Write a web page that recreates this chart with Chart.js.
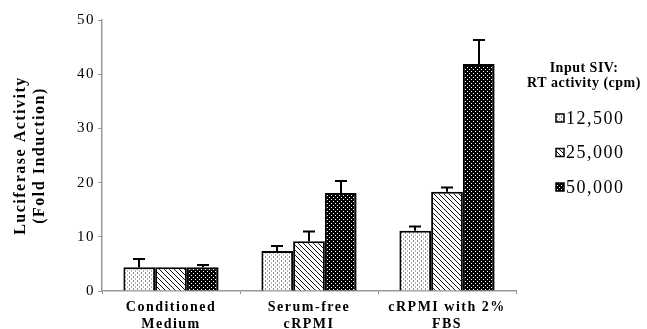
<!DOCTYPE html>
<html>
<head>
<meta charset="utf-8">
<script src="https://cdn.jsdelivr.net/npm/chart.js@4.4.1/dist/chart.umd.min.js"></script>
<style>
  html, body { margin: 0; padding: 0; background: #fff; }
  #wrap { width: 647px; height: 329px; position: relative; }
</style>
</head>
<body>
<div id="wrap"><canvas id="c" width="647" height="329"></canvas></div>
<script>
// Luciferase induction by input SIV dose and culture medium
const categories = [['Conditioned', 'Medium'], ['Serum-free', 'cRPMI'], ['cRPMI with 2%', 'FBS']];
const seriesLabels = ['12,500', '25,000', '50,000'];
const values12500 = [4.4, 7.4, 11.1];
const values25000 = [4.4, 9.2, 18.3];
const values50000 = [4.4, 18.1, 41.9];
const errors12500 = [1.5, 0.9, 0.8];
const errors25000 = [0.0, 1.8, 0.8];
const errors50000 = [0.4, 2.2, 4.4];
const yTicks = [0, 10, 20, 30, 40, 50];
const legendTitle = ['Input SIV:', 'RT activity (cpm)'];
const yTitle = ['Luciferase Activity', '(Fold Induction)'];

const SERIF = '"Liberation Serif", "Times New Roman", serif';

function makePattern(kind) {
  const c = document.createElement('canvas');
  const ctx = c.getContext('2d');
  if (kind === 'stipple') {
    c.width = 4; c.height = 4;
    ctx.fillStyle = '#fff'; ctx.fillRect(0, 0, 4, 4);
    ctx.fillStyle = '#8a8a8a';
    ctx.fillRect(1, 0, 1, 2);
    ctx.fillStyle = '#b0b0b0';
    ctx.fillRect(3, 2, 1, 2);
  } else if (kind === 'hatch') {
    c.width = 5; c.height = 5;
    ctx.fillStyle = '#fff'; ctx.fillRect(0, 0, 5, 5);
    ctx.fillStyle = '#111';
    for (let i = 0; i < 5; i++) { ctx.fillRect(i, i, 1, 1); }
  } else {
    c.width = 4; c.height = 4;
    ctx.fillStyle = '#000'; ctx.fillRect(0, 0, 4, 4);
    ctx.fillStyle = '#fff';
    ctx.fillRect(1, 1, 1, 1);
    ctx.fillRect(3, 3, 1, 1);
  }
  const ref = document.getElementById('c').getContext('2d');
  return ref.createPattern(c, 'repeat');
}

const fills = [makePattern('stipple'), makePattern('hatch'), makePattern('dots')];
const errorSets = [errors12500, errors25000, errors50000];

// Wide-set lettering for the axis text
const spacing = {
  id: 'spacing',
  beforeDraw(chart) { chart.ctx.letterSpacing = '1.5px'; },
  afterDraw(chart) { chart.ctx.letterSpacing = '0px'; }
};

// Upper-only error bars with a short cap
const errorBars = {
  id: 'errorBars',
  afterDatasetsDraw(chart) {
    const ctx = chart.ctx;
    const y = chart.scales.y;
    ctx.save();
    ctx.strokeStyle = '#000';
    ctx.lineWidth = 2;
    chart.data.datasets.forEach((ds, di) => {
      const meta = chart.getDatasetMeta(di);
      meta.data.forEach((bar, i) => {
        const err = errorSets[di][i];
        if (!err) return;
        const top = y.getPixelForValue(ds.data[i] + err);
        const x = Math.round(bar.x);
        ctx.beginPath();
        ctx.moveTo(x, bar.y);
        ctx.lineTo(x, top);
        ctx.moveTo(x - 6, top);
        ctx.lineTo(x + 6, top);
        ctx.stroke();
      });
    });
    ctx.restore();
  }
};

// Legend drawn at the right with a two-line title
const sideLegend = {
  id: 'sideLegend',
  afterDraw(chart) {
    const ctx = chart.ctx;
    ctx.save();
    ctx.fillStyle = '#000';
    ctx.textAlign = 'center';
    ctx.textBaseline = 'middle';
    ctx.letterSpacing = '0.5px';
    ctx.font = 'bold 14px ' + SERIF;
    legendTitle.forEach((t, i) => ctx.fillText(t, 584, 68 + i * 15));
    ctx.textAlign = 'left';
    ctx.letterSpacing = '1.5px';
    ctx.font = '18px ' + SERIF;
    chart.data.datasets.forEach((ds, i) => {
      const cy = 118 + i * 34.5;
      ctx.fillStyle = ds.backgroundColor;
      ctx.fillRect(556, cy - 4, 8, 8);
      ctx.strokeStyle = '#000';
      ctx.lineWidth = 1.5;
      ctx.strokeRect(556, cy - 4, 8, 8);
      ctx.fillStyle = '#000';
      ctx.fillText(ds.label, 566, cy + 1);
    });
    ctx.restore();
  }
};

const datasets = [values12500, values25000, values50000].map((vals, i) => ({
  label: seriesLabels[i],
  data: vals,
  backgroundColor: fills[i],
  borderColor: '#000',
  borderWidth: 2,
  borderSkipped: 'bottom'
}));

new Chart(document.getElementById('c'), {
  type: 'bar',
  data: { labels: categories, datasets },
  options: {
    responsive: false,
    animation: false,
    devicePixelRatio: 1,
    layout: { padding: { top: 20, right: 131, left: 12, bottom: 0 } },
    datasets: { bar: { categoryPercentage: 0.69, barPercentage: 1.0 } },
    plugins: { legend: { display: false }, tooltip: { enabled: false } },
    scales: {
      x: {
        afterFit(scale) { scale.height = 38; },
        grid: { display: true, drawOnChartArea: false, offset: true, tickLength: 3, color: '#888' },
        border: { color: '#999', width: 1.5 },
        ticks: {
          color: '#000',
          font: { family: SERIF, weight: 'bold', size: 14, lineHeight: 1.2 },
          padding: 5,
          maxRotation: 0
        }
      },
      y: {
        min: 0, max: 50,
        afterBuildTicks(scale) { scale.ticks = yTicks.map(v => ({ value: v })); },
        afterFit(scale) { scale.width = 90; },
        grid: { display: true, drawOnChartArea: false, tickLength: 4, color: '#999' },
        border: { color: '#999', width: 1.5 },
        ticks: {
          color: '#000',
          font: { family: SERIF, size: 15 },
          padding: 3
        },
        title: {
          display: true,
          text: yTitle,
          color: '#000',
          font: { family: SERIF, weight: 'bold', size: 16, lineHeight: 1.15 },
          padding: { top: 0, bottom: 10 }
        }
      }
    }
  },
  plugins: [spacing, errorBars, sideLegend]
});
</script>
</body>
</html>
